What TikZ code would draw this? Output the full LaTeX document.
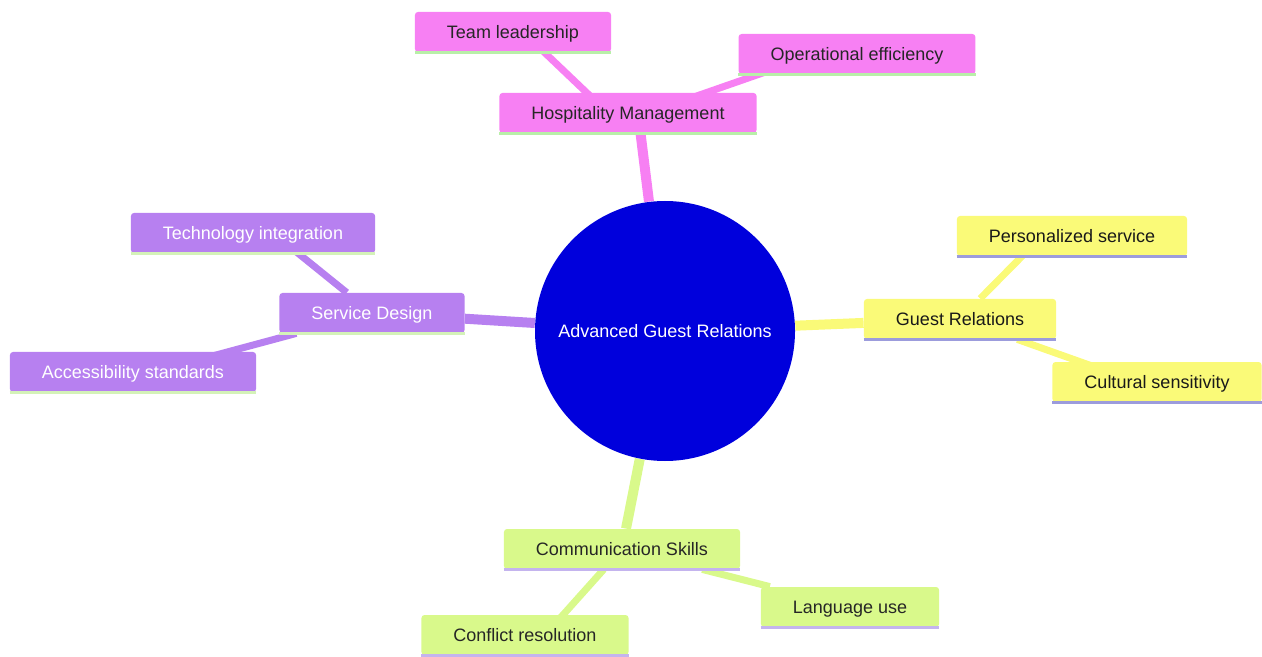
\documentclass[tikz,border=0pt]{standalone}
\usepackage{fontspec}
\setmainfont{Liberation Sans}
\usetikzlibrary{backgrounds}
\definecolor{hmpink}{HTML}{F780F3}
\definecolor{hmline}{HTML}{B8EFA8}
\definecolor{gryellow}{HTML}{FAFA78}
\definecolor{grline}{HTML}{9C9CDC}
\definecolor{sdpurple}{HTML}{B780F0}
\definecolor{sdline}{HTML}{D4F2B8}
\definecolor{csgreen}{HTML}{D9F98B}
\definecolor{csline}{HTML}{C4B4EE}
\definecolor{rootblue}{HTML}{0000DC}
\begin{document}
\begin{tikzpicture}[x=0.5pt,y=-0.5pt,
    box/.style={rectangle,rounded corners=1.5pt,inner xsep=16pt,minimum height=20pt,text height=8pt,text depth=1.1pt,font=\fontsize{9}{11}\selectfont},
    main/.style={line width=5pt},
    leaf/.style={line width=3.5pt}]
            \useasboundingbox (0,0) rectangle (1262,657);
            \node [circle,fill=rootblue,text=white,minimum size=130pt,font=\fontsize{9}{11}\selectfont] (root) at (665,331) {Advanced Guest Relations};
            \node [box,fill=hmpink,text=black!85] (hm) at (628,113) {Hospitality Management};
            \node [box,fill=hmpink,text=black!85] (team) at (513,32) {Team leadership};
            \node [box,fill=hmpink,text=black!85] (oper) at (857,54) {Operational efficiency};
            \node [box,fill=gryellow,text=black!90] (gr) at (960,319) {Guest Relations};
            \node [box,fill=gryellow,text=black!90] (pers) at (1072,236) {Personalized service};
            \node [box,fill=gryellow,text=black!90] (cult) at (1157,382) {Cultural sensitivity};
            \node [box,fill=sdpurple,text=white] (sd) at (372,313) {Service Design};
            \node [box,fill=sdpurple,text=white] (tech) at (253,233) {Technology integration};
            \node [box,fill=sdpurple,text=white] (acc) at (133,372) {Accessibility standards};
            \node [box,fill=csgreen,text=black!85] (cs) at (622,549) {Communication Skills};
            \node [box,fill=csgreen,text=black!85] (conf) at (525,635) {Conflict resolution};
            \node [box,fill=csgreen,text=black!85] (lang) at (850,607) {Language use};
            \begin{scope}[on background layer]
            \draw [main,hmpink] ([xshift=5pt]hm.center) -- (root);
            \draw [leaf,hmpink] ([xshift=5pt]team.center) -- ([xshift=-10pt]hm.center);
            \draw [leaf,hmpink] ([xshift=-20pt]oper.center) -- ([xshift=10pt]hm.center);
            \draw [main,gryellow] (root) -- (gr);
            \draw [leaf,gryellow] (gr) -- ([xshift=-15pt]pers.center);
            \draw [leaf,gryellow] (gr) -- ([xshift=-10pt]cult.center);
            \draw [main,sdpurple] (root) -- (sd);
            \draw [leaf,sdpurple] ([xshift=10pt]tech.center) -- (sd);
            \draw [leaf,sdpurple] ([xshift=10pt]acc.center) -- (sd);
            \draw [main,csgreen] (root) -- (cs);
            \draw [leaf,csgreen] (cs) -- ([xshift=10pt]conf.center);
            \draw [leaf,csgreen] (cs) -- (lang);
            \end{scope}
            \draw [hmline,line width=1.5pt] (hm.south west) -- (hm.south east);
            \draw [hmline,line width=1.5pt] (team.south west) -- (team.south east);
            \draw [hmline,line width=1.5pt] (oper.south west) -- (oper.south east);
            \draw [grline,line width=1.5pt] (gr.south west) -- (gr.south east);
            \draw [grline,line width=1.5pt] (pers.south west) -- (pers.south east);
            \draw [grline,line width=1.5pt] (cult.south west) -- (cult.south east);
            \draw [sdline,line width=1.5pt] (sd.south west) -- (sd.south east);
            \draw [sdline,line width=1.5pt] (tech.south west) -- (tech.south east);
            \draw [sdline,line width=1.5pt] (acc.south west) -- (acc.south east);
            \draw [csline,line width=1.5pt] (cs.south west) -- (cs.south east);
            \draw [csline,line width=1.5pt] (conf.south west) -- (conf.south east);
            \draw [csline,line width=1.5pt] (lang.south west) -- (lang.south east);
        \end{tikzpicture}
\end{document}
